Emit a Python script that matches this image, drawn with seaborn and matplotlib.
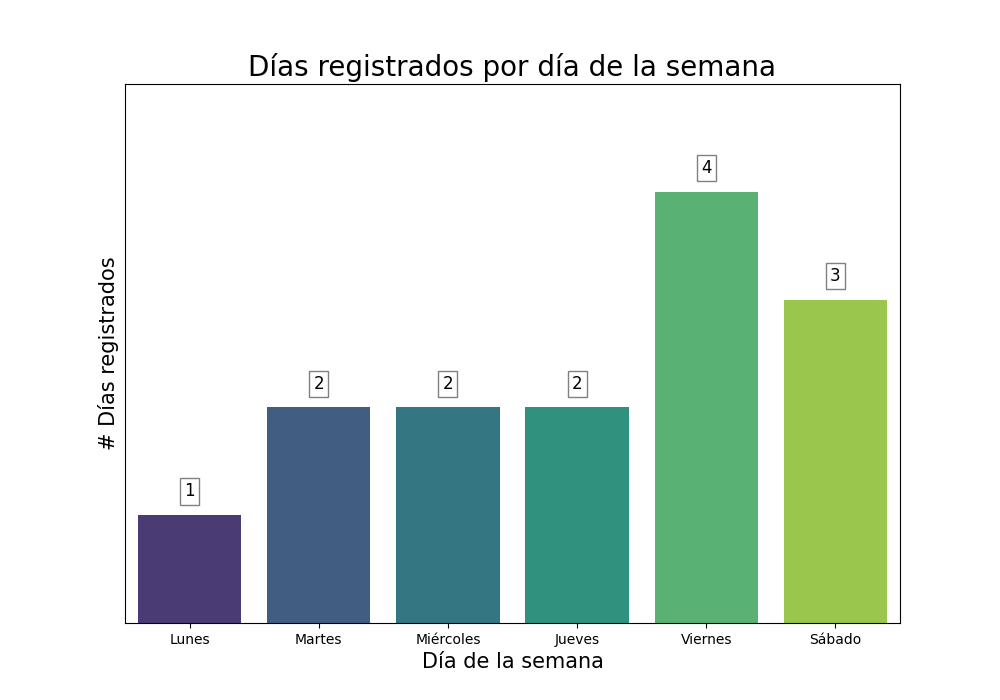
import matplotlib
matplotlib.use("Agg")
import matplotlib.pyplot as plt
import seaborn as sns
import pandas as pd

dias = ["Lunes", "Martes", "Miércoles", "Jueves", "Viernes", "Sábado"]
conteo = [1, 2, 2, 2, 4, 3]

df = pd.DataFrame({"dia": dias, "n": conteo})

fig, ax = plt.subplots(figsize=(10, 7), dpi=100)
sns.barplot(data=df, x="dia", y="n", hue="dia", palette="viridis",
            legend=False, ax=ax)

# etiquetas con caja sobre cada barra
for i, v in enumerate(conteo):
    ax.text(i, v + 0.22, str(v), ha="center", va="center", fontsize=12,
            bbox=dict(facecolor="white", edgecolor="gray", pad=3))

ax.set_ylim(0, 5)
ax.set_yticks([])
ax.set_title("Días registrados por día de la semana", fontsize=20)
ax.set_xlabel("Día de la semana", fontsize=15)
ax.set_ylabel("# Días registrados", fontsize=15)

fig.savefig("out.png", dpi=100)
